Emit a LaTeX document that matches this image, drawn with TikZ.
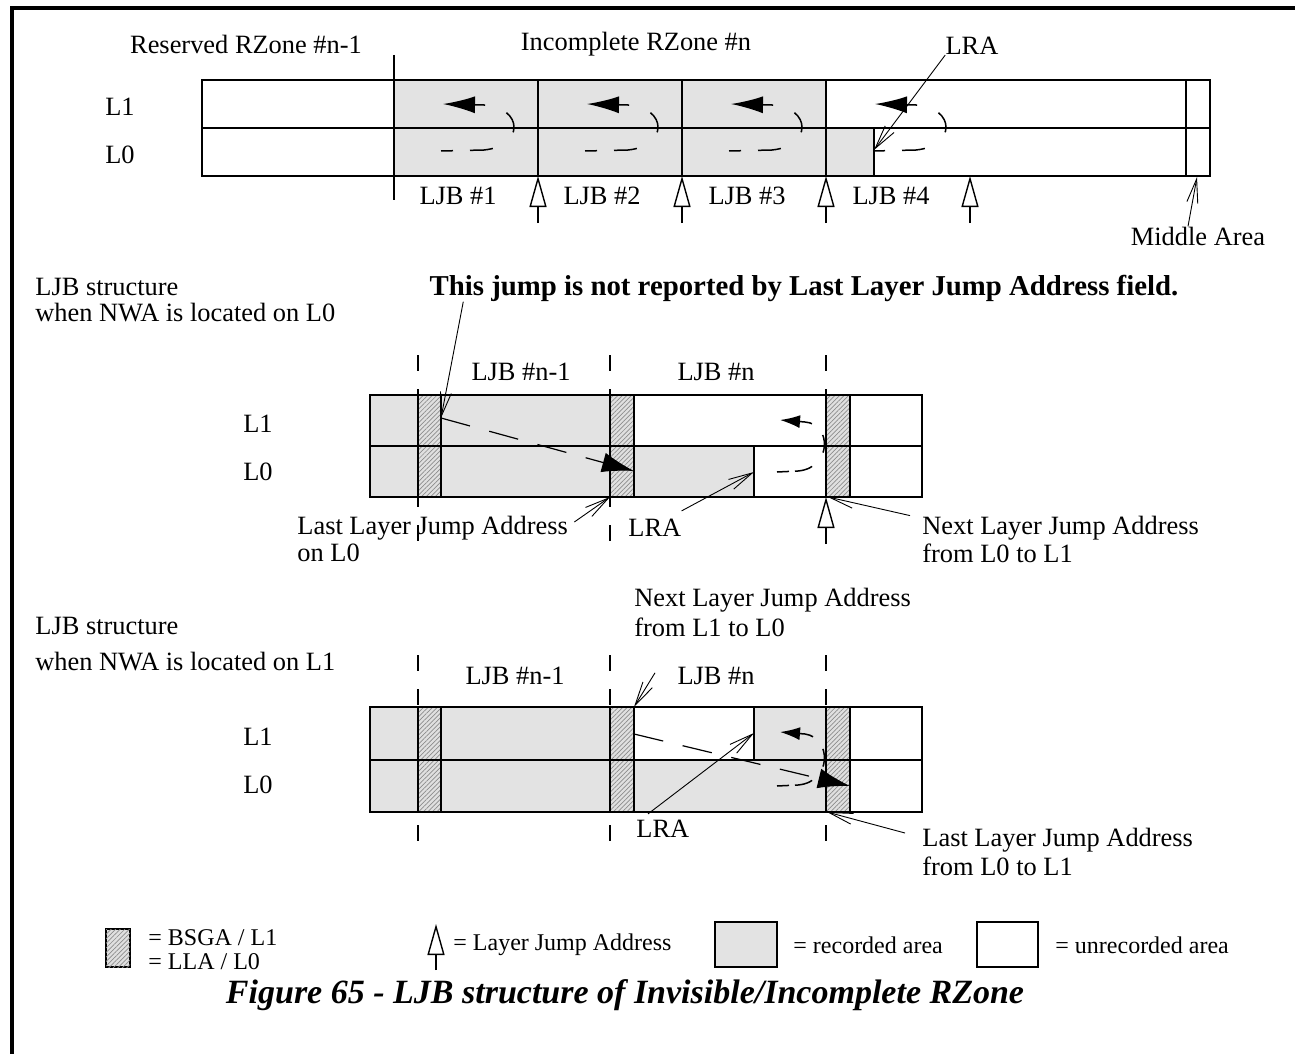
\documentclass[tikz,border=0pt]{standalone}
\usepackage{fontspec}
\setmainfont{Liberation Serif}
\usetikzlibrary{arrows.meta,patterns.meta}
\tikzset{
  frameline/.style={line width=1.7pt},
  zoneline/.style={line width=0.8pt},
  thinline/.style={line width=0.45pt},
  recarea/.style={fill=black!11},
  bsga/.style={fill=black!12, postaction={pattern={Lines[angle=45,distance=1.6pt,line width=0.35pt]}, pattern color=black!45}},
  lbl/.style={font=\fontsize{13.2}{15}\selectfont, inner sep=0pt},
  lblleft/.style={lbl, anchor=west},
  keytext/.style={lblleft, font=\fontsize{12}{14}\selectfont},
  leader/.style={thinline, -{Straight Barb[length=12pt,width=5.5pt]}},
  ljaup/.style={line width=0.9pt, -{Triangle[open,length=15.5pt,width=8.5pt,line width=0.7pt,fill=white]}},
  uturn/.style={line width=0.75pt, dash pattern=on 6pt off 8.5pt on 11.5pt off 13.5pt on 11pt off 11.5pt on 50pt,
    -{Latex[length=16pt,width=8.5pt]}},
  uturnsmall/.style={line width=0.75pt, dash pattern=on 6pt off 3pt on 9pt off 9pt on 9pt off 8pt on 30pt,
    -{Latex[length=10pt,width=6.5pt]}},
  guide/.style={zoneline, dash pattern=on 8pt off 9pt},
  jump/.style={line width=0.6pt, dash pattern=on 15pt off 10pt, -{Latex[length=16pt,width=10pt]}},
}
\begin{document}
\begin{tikzpicture}[x=0.5pt,y=-0.5pt]
\useasboundingbox (0,0) rectangle (1295,1054);
\draw[frameline] (12,1054) -- (12,8) -- (1295,8);

% top: the RZones
\node[lbl] (rzprev) at (246,44) {Reserved RZone \#n-1};
\node[lbl] (rzcur) at (636,44) {Incomplete RZone \#n};
\node[lbl] (lratop) at (972,46) {LRA};
\node[lbl] (l1top) at (120,107) {L1};
\node[lbl] (l0top) at (120,155) {L0};
\fill[recarea] (394,80) rectangle (826,176);
\fill[recarea] (826,128) rectangle (874,176);
\draw[zoneline] (202,80) rectangle (1210,176);
\draw[zoneline] (202,128) -- (1210,128);
\draw[zoneline] (394,55) -- (394,200);
\draw[zoneline] (538,80) -- (538,176) (682,80) -- (682,176) (826,80) -- (826,176)
  (874,128) -- (874,176) (1186,80) -- (1186,176);
\draw[uturn] (441,151) -- (484,150) .. controls (524,146) and (524,108) .. (484,105) -- (443,104);
\draw[uturn] (585,151) -- (628,150) .. controls (668,146) and (668,108) .. (628,105) -- (587,104);
\draw[uturn] (729,151) -- (772,150) .. controls (812,146) and (812,108) .. (772,105) -- (731,104);
\draw[uturn] (873,151) -- (916,150) .. controls (956,146) and (956,108) .. (916,105) -- (875,104);
\draw[ljaup] (538,223) -- (538,176);
\draw[ljaup] (682,223) -- (682,176);
\draw[ljaup] (826,223) -- (826,176);
\draw[ljaup] (970,223) -- (970,176);
\node[lbl] (ljb1) at (458,196) {LJB \#1};
\node[lbl] (ljb2) at (602,196) {LJB \#2};
\node[lbl] (ljb3) at (747,196) {LJB \#3};
\node[lbl] (ljb4) at (891,196) {LJB \#4};
\coordinate (lratoptip) at (874,150);
\draw[leader] (lratop.south west) -- (lratoptip);
\node[lbl] (midarea) at (1198,236) {Middle Area};
\coordinate (midareatip) at (1197,177);
\draw[leader] ([xshift=-5pt]midarea.north) -- (midareatip);

% middle: NWA on L0
\node[lblleft] (struct0) at (35,287) {LJB structure};
\node[lblleft] (nwa0) at (35,313) {when NWA is located on L0};
\node[lbl, font=\fontsize{14.4}{16}\selectfont\bfseries] (jumpnote) at (804,288)
  {This jump is not reported by Last Layer Jump Address field.};
\node[lbl] (l1mid) at (258,424) {L1};
\node[lbl] (l0mid) at (258,472) {L0};
\node[lbl] (ljbprevmid) at (521,372) {LJB \#n-1};
\node[lbl] (ljbcurmid) at (716,372) {LJB \#n};
\fill[recarea] (370,395) rectangle (634,497);
\fill[recarea] (634,446) rectangle (754,497);
\fill[bsga] (418,395) rectangle (441,497);
\fill[bsga] (610,395) rectangle (634,497);
\fill[bsga] (826,395) rectangle (850,497);
\draw[guide] (418,355) -- (418,545) (610,355) -- (610,545) (826,355) -- (826,497);
\draw[zoneline] (370,395) rectangle (922,497);
\draw[zoneline] (370,446) -- (922,446);
\draw[zoneline] (418,395) -- (418,497) (441,395) -- (441,497) (610,395) -- (610,497)
  (634,395) -- (634,497) (754,446) -- (754,497) (826,395) -- (826,497) (850,395) -- (850,497);
\coordinate (jmpfrommid) at (441,418);
\coordinate (jmptomid) at (634,471);
\draw[jump] (jmpfrommid) -- (jmptomid);
\draw[leader] ([xshift=17pt]jumpnote.south west) -- (jmpfrommid);
\draw[uturnsmall] (777,472) -- (798,471) .. controls (832,468) and (832,424) .. (805,422) -- (780,420);
\draw[ljaup] (826,544) -- (826,497);
\node[lblleft] (lljmid) at (297,528) {Last Layer Jump Address};
\node[lblleft] (lljmidb) at (297,553) {on L0};
\coordinate (lljmidtip) at (610,497);
\draw[leader] ([xshift=3pt,yshift=3pt]lljmid.east) -- (lljmidtip);
\node[lblleft] (lramid) at (628,528) {LRA};
\coordinate (lramidtip) at (754,472);
\draw[leader] ([yshift=4pt]lramid.north east) -- (lramidtip);
\node[lblleft] (nljmid) at (922,528) {Next Layer Jump Address};
\node[lblleft] (nljmidb) at (922,553) {from L0 to L1};
\coordinate (nljmidtip) at (828,497);
\draw[leader] ([xshift=-6pt]nljmid.north west) -- (nljmidtip);

% bottom: NWA on L1
\node[lblleft] (struct1) at (35,626) {LJB structure};
\node[lblleft] (nwa1) at (35,662) {when NWA is located on L1};
\node[lblleft] (nljbot) at (634,600) {Next Layer Jump Address};
\node[lblleft] (nljbotb) at (634,627) {from L1 to L0};
\node[lbl] (l1bot) at (258,737) {L1};
\node[lbl] (l0bot) at (258,785) {L0};
\node[lbl] (ljbprevbot) at (515,676) {LJB \#n-1};
\node[lbl] (ljbcurbot) at (716,676) {LJB \#n};
\fill[recarea] (370,707) rectangle (634,812);
\fill[recarea] (634,760) rectangle (826,812);
\fill[recarea] (754,707) rectangle (826,760);
\fill[bsga] (418,707) rectangle (441,812);
\fill[bsga] (610,707) rectangle (634,812);
\fill[bsga] (826,707) rectangle (850,812);
\draw[guide] (418,655) -- (418,845) (610,655) -- (610,845) (826,655) -- (826,845);
\draw[zoneline] (370,707) rectangle (922,812);
\draw[zoneline] (370,760) -- (922,760);
\draw[zoneline] (418,707) -- (418,812) (441,707) -- (441,812) (610,707) -- (610,812)
  (634,707) -- (634,812) (754,707) -- (754,760) (826,707) -- (826,812) (850,707) -- (850,812);
\coordinate (nljbottip) at (634,707);
\draw[leader] ([shift={(21,36)}]nljbotb.south west) -- (nljbottip);
\coordinate (jmpfrombot) at (634,734);
\coordinate (jmptobot) at (850,786);
\draw[jump] (jmpfrombot) -- (jmptobot);
\draw[uturnsmall] (777,786) -- (798,785) .. controls (832,782) and (832,738) .. (805,734) -- (780,732);
\node[lblleft] (lrabot) at (636,829) {LRA};
\coordinate (lrabottip) at (754,733);
\draw[leader] ([shift={(12,-6)}]lrabot.north west) -- (lrabottip);
\node[lblleft] (lljbot) at (922,840) {Last Layer Jump Address};
\node[lblleft] (lljbotb) at (922,866) {from L0 to L1};
\coordinate (lljbottip) at (827,812);
\draw[leader] ([shift={(-17,-7)}]lljbot.west) -- (lljbottip);

% legend
\draw[bsga, zoneline] (106,929) rectangle (130,967);
\node[keytext] (bsgakey) at (148,938) {= BSGA / L1};
\node[keytext] (llakey) at (148,962) {= LLA / L0};
\draw[ljaup] (436,970) -- (436,924);
\node[keytext] (ljakey) at (453,945) {= Layer Jump Address};
\draw[recarea, zoneline] (715,922) rectangle (777,967);
\node[keytext] (reckey) at (793,945) {= recorded area};
\draw[zoneline] (977,922) rectangle (1038,967);
\node[keytext] (unreckey) at (1055,945) {= unrecorded area};
\node[lbl, font=\fontsize{17}{20}\selectfont\bfseries\itshape] (caption) at (625,995)
  {Figure 65 - LJB structure of Invisible/Incomplete RZone};
\end{tikzpicture}
\end{document}
